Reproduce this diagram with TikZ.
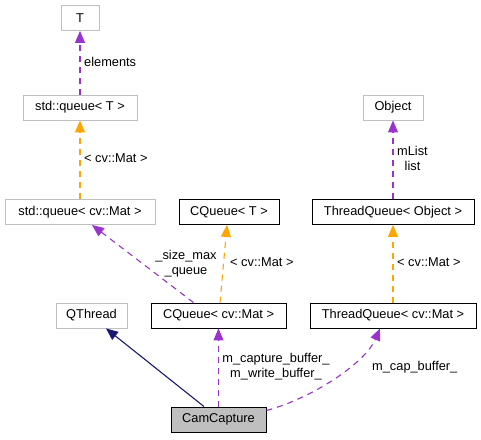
\documentclass[tikz,border=0pt]{standalone}
\usepackage{fontspec}
\setmainfont{Liberation Sans}
\usetikzlibrary{arrows.meta}

\definecolor{grey75}{HTML}{BFBFBF}
\definecolor{member}{HTML}{9A32CD}
\definecolor{tmpl}{HTML}{FFA500}
\definecolor{inherit}{HTML}{191970}

\tikzset{
  cls/.style={draw=black, line width=0.9pt, minimum height=25pt, inner sep=0pt,
    font=\fontsize{12.8}{14.5}\selectfont},
  nodoc/.style={cls, draw=grey75},
  self/.style={cls, fill=grey75},
  lbl/.style={inner sep=0pt, align=center, font=\fontsize{12.8}{14.5}\selectfont},
  tip/.style={-{Triangle[length=12pt,width=10pt]}},
  usage/.style={tip, member, line width=1.1pt, dash pattern=on 6pt off 5pt},
  inst/.style={tip, tmpl, line width=1.1pt, dash pattern=on 6pt off 5pt},
  pub/.style={tip, inherit, line width=1.1pt}
}

\begin{document}
\begin{tikzpicture}[x=1pt,y=-1pt]
  \useasboundingbox (0,0) rectangle (481,439);
  % name/x/y/width/style/text  (pixel positions of the boxes)
  \def\classes{t/80/18/38/nodoc/T,
    sqt/80/107.5/114/nodoc/std::queue< T >,
    sqmat/80/212/150/nodoc/std::queue< cv::Mat >,
    cqt/229/212/100/cls/CQueue< T >,
    obj/393/107.5/60/nodoc/Object,
    tqobj/393/212/162/cls/ThreadQueue< Object >,
    qth/91.5/315.5/71/nodoc/QThread,
    cqmat/218.5/315.5/135/cls/CQueue< cv::Mat >,
    tqmat/393/315.5/166/cls/ThreadQueue< cv::Mat >,
    cam/218.5/419.5/95/self/CamCapture}

  \foreach \n/\x/\y/\w/\s/\txt in \classes {
    \node[\s, minimum width=\w pt] (\n) at (\x,\y) {\txt};
  }

  % template instances and members
  \draw[usage] (sqt.north) -- (t.south);
  \draw[inst] (sqmat.north) -- (sqt.south);
  \draw[usage] (tqobj.north) -- (obj.south);
  \draw[inst] (tqmat.north) -- (tqobj.south);
  \draw[usage] ([xshift=-25pt]cqmat.north) -- ([xshift=12pt]sqmat.south);
  \draw[inst] ([xshift=1.5pt]cqmat.north) -- ([xshift=-2pt]cqt.south);

  % CamCapture
  \draw[pub] ([xshift=-14.5pt]cam.north) -- ([xshift=14.5pt]qth.south);
  \draw[usage] (cam.north) -- (cqmat.south);
  \draw[usage] ([yshift=9pt]cam.east) .. controls +(45,-12) and +(-15,35) .. ([xshift=-13pt]tqmat.south);

  \node[lbl, anchor=west] (lelem) at (84,62) {elements};
  \node[lbl, anchor=west] (lsq) at (84,158) {< cv::Mat >};
  \node[lbl] (llist) at (412.5,158.5) {mList\\list};
  \node[lbl] (lqueue) at (186,263.5) {\_size\_max\\\_queue};
  \node[lbl, anchor=west] (lcq) at (230,262) {< cv::Mat >};
  \node[lbl, anchor=west] (ltq) at (397,262) {< cv::Mat >};
  \node[lbl] (lbuf) at (276,366.5) {m\_capture\_buffer\_\\m\_write\_buffer\_};
  \node[lbl, anchor=west] (lcap) at (372,367) {m\_cap\_buffer\_};
\end{tikzpicture}
\end{document}
